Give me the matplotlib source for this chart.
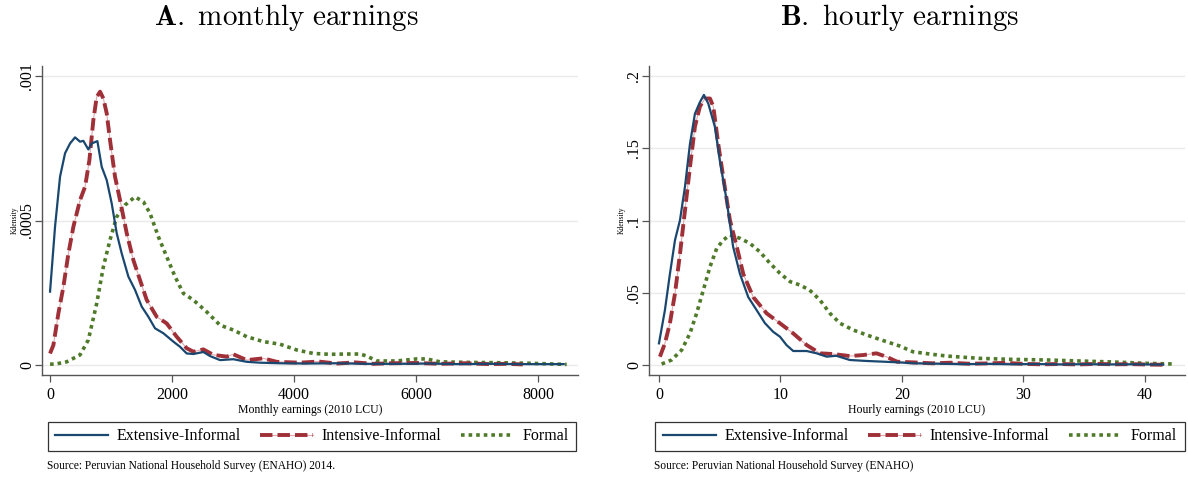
import matplotlib.pyplot as plt
from matplotlib.patches import Rectangle

plt.rcParams['font.family'] = ['Liberation Serif', 'DejaVu Serif']
plt.rcParams['mathtext.fontset'] = 'cm'

# kernel density estimates, monthly earnings (2010 LCU)
m_ext_x = [0, 82, 164, 246, 328, 410, 492, 546, 628, 683, 776, 847, 929, 1011, 1093,
           1175, 1284, 1393, 1503, 1612, 1721, 1857, 2021, 2131, 2240, 2349, 2513,
           2622, 2786, 3005, 3224, 3442, 3770, 4200, 4700, 5200, 5700, 6200, 6700,
           7200, 7700, 8200, 8420]
m_ext_y = [0.000254, 0.000479, 0.000652, 0.000733, 0.000767, 0.000788, 0.000773,
           0.000776, 0.000746, 0.000767, 0.000775, 0.000686, 0.00064, 0.000559,
           0.000456, 0.000386, 0.000306, 0.00026, 0.000202, 0.000167, 0.000127,
           0.00011, 0.000081, 0.000063, 0.00004, 0.000038, 0.000045, 0.000031,
           0.000017, 0.00002, 0.000011, 0.000008, 0.000006, 0.000005, 0.000006,
           0.000004, 0.000004, 0.000005, 0.000003, 0.000004, 0.000003, 0.000003,
           0.000003]

m_int_x = [0, 55, 137, 219, 301, 383, 492, 574, 645, 710, 765, 820, 874, 929, 983,
           1065, 1147, 1257, 1366, 1475, 1585, 1748, 1912, 2076, 2240, 2349, 2513,
           2677, 2896, 3005, 3224, 3497, 3716, 4098, 4400, 4700, 5000, 5300, 5600,
           6000, 6400, 6800, 7200, 7500, 7750]
m_int_y = [0.00004, 0.000069, 0.000179, 0.000271, 0.000386, 0.000479, 0.000571,
           0.000617, 0.000709, 0.000848, 0.000928, 0.000946, 0.000923, 0.000871,
           0.000779, 0.000652, 0.000571, 0.000456, 0.000363, 0.000294, 0.000225,
           0.000167, 0.000144, 0.000098, 0.000058, 0.000046, 0.000054, 0.000035,
           0.000029, 0.000037, 0.000017, 0.000023, 0.000011, 0.000008, 0.000012,
           0.000005, 0.000009, 0.000004, 0.000006, 0.000007, 0.000004, 0.000006,
           0.000003, 0.000004, 0.000002]

m_for_x = [0, 82, 273, 492, 628, 765, 874, 983, 1093, 1230, 1393, 1530, 1639, 1776,
           1912, 2049, 2185, 2349, 2568, 2786, 3005, 3224, 3497, 3770, 4044, 4316,
           4590, 4863, 5082, 5191, 5355, 5683, 6011, 6175, 6393, 6830, 7322, 7868,
           8469]
m_for_y = [0.000003, 0.000003, 0.000011, 0.000035, 0.000087, 0.000213, 0.00034,
           0.000433, 0.000513, 0.000554, 0.000582, 0.000565, 0.000525, 0.000444,
           0.000375, 0.000306, 0.000248, 0.000225, 0.000184, 0.000138, 0.000121,
           0.000098, 0.000081, 0.000072, 0.000052, 0.00004, 0.000037, 0.000038,
           0.000038, 0.000031, 0.000014, 0.000014, 0.000021, 0.000021, 0.000011,
           0.000009, 0.000008, 0.000006, 0.000002]

# kernel density estimates, hourly earnings (2010 LCU)
h_ext_x = [0, 0.49, 0.9, 1.32, 1.73, 2.14, 2.55, 2.96, 3.37, 3.7, 4.06, 4.6, 5.0,
           5.57, 6.1, 6.67, 7.35, 8.04, 8.72, 9.4, 9.96, 10.5, 11.05, 12.16, 12.98,
           13.8, 14.6, 15.7, 17.1, 18.5, 19.8, 20.9, 23, 25, 27, 29, 31, 33, 35,
           37, 39, 41.5]
h_ext_y = [0.015, 0.038, 0.063, 0.0865, 0.1003, 0.1234, 0.153, 0.174, 0.182, 0.187,
           0.181, 0.165, 0.142, 0.114, 0.082, 0.063, 0.047, 0.038, 0.029, 0.023,
           0.0196, 0.0138, 0.0097, 0.0097, 0.0081, 0.0058, 0.0064, 0.0035, 0.0028,
           0.0023, 0.0018, 0.0012, 0.0009, 0.0006, 0.0008, 0.0005, 0.0007, 0.0004,
           0.0006, 0.0004, 0.0005, 0.0003]

h_int_x = [0.08, 0.49, 0.9, 1.32, 1.73, 2.14, 2.55, 2.96, 3.37, 3.79, 4.2, 4.47,
           4.88, 5.29, 5.84, 6.4, 6.94, 7.76, 8.86, 9.96, 11.05, 12.16, 13.25,
           14.35, 15.7, 16.8, 17.9, 18.7, 19.6, 21, 22.5, 24, 25.5, 27, 28.5, 30,
           31.5, 33, 34.5, 36, 37.5, 39, 40.5, 41.5]
h_int_y = [0.0058, 0.015, 0.0289, 0.0496, 0.077, 0.107, 0.137, 0.165, 0.179,
           0.1845, 0.1845, 0.179, 0.153, 0.13, 0.1003, 0.082, 0.063, 0.047, 0.0358,
           0.0289, 0.0219, 0.0138, 0.0081, 0.0076, 0.0062, 0.0069, 0.0081, 0.0058,
           0.0023, 0.0018, 0.0012, 0.0016, 0.0009, 0.0011, 0.0015, 0.0008, 0.0005,
           0.0007, 0.0004, 0.0008, 0.0005, 0.0006, 0.0003, 0.0002]

h_for_x = [0.22, 1.04, 1.87, 2.55, 3.1, 3.65, 4.2, 4.75, 5.29, 5.84, 6.67, 7.49,
           8.3, 9.14, 9.96, 10.8, 11.6, 12.4, 13.25, 14.07, 14.9, 16.0, 17.1, 18.5,
           19.8, 20.9, 22.3, 23.7, 26.4, 29.1, 31.9, 34.6, 37.4, 40.1, 42.3]
h_for_y = [0.0007, 0.0035, 0.0104, 0.0219, 0.0358, 0.0519, 0.068, 0.0807, 0.0865,
           0.09, 0.0877, 0.0842, 0.0784, 0.0704, 0.0635, 0.0577, 0.0554, 0.0519,
           0.045, 0.0358, 0.0289, 0.0242, 0.0208, 0.0168, 0.0132, 0.0092, 0.0076,
           0.0062, 0.0046, 0.0039, 0.0035, 0.0028, 0.0021, 0.0012, 0.0007]

labels = ['Extensive-Informal', 'Intensive-Informal', 'Formal']
navy = '#1a476f'
maroon = '#a03038'
pink = '#e0a8ae'
green = '#4f7a2a'


def panel(ax, series, xlim, ylim, xticks, yticks, yticklabels, xlabel, title,
          title_x, source, leg_box):
    fig = ax.figure
    (ex, ey), (ix, iy), (fx, fy) = series
    l1, = ax.plot(ex, ey, color=navy, lw=1.6, zorder=4)
    p2, = ax.plot(ix, iy, color=pink, lw=0.8, zorder=3)
    l2, = ax.plot(ix, iy, color=maroon, lw=2.8, zorder=3,
                  linestyle=(0, (3.2, 1.3)), dash_capstyle='butt')
    l3, = ax.plot(fx, fy, color=green, lw=2.6, zorder=2,
                  linestyle=(0, (1, 1.1)), dash_capstyle='butt')

    ax.set_xlim(*xlim)
    ax.set_ylim(*ylim)
    ax.set_xticks(xticks)
    ax.set_xticklabels([str(t) for t in xticks], fontsize=11.5)
    ax.set_yticks(yticks)
    ax.set_yticklabels(yticklabels, fontsize=11.5, rotation=90, va='center')
    ax.grid(axis='y', color='#eaeaea', lw=1.0)
    ax.set_axisbelow(True)
    for s in ['top', 'right']:
        ax.spines[s].set_visible(False)
    for s in ['left', 'bottom']:
        ax.spines[s].set_color('#555555')
        ax.spines[s].set_linewidth(1.0)
    ax.tick_params(colors='#555555', labelcolor='black', length=5, width=0.9,
                   direction='out')
    ax.tick_params(axis='y', pad=0)
    ax.set_xlabel(xlabel, fontsize=8.5, labelpad=1)
    ax.set_ylabel('Kdensity', fontsize=5.5, labelpad=0.5)

    fig.text(title_x, 0.9477, title, fontsize=21, ha='center', va='baseline')

    # legend frame drawn separately so its size stays fixed
    fig.patches.append(Rectangle(leg_box[:2], leg_box[2], leg_box[3],
                                 transform=fig.transFigure, fill=False,
                                 edgecolor='#333333', lw=0.9))
    ax.legend([l1, (p2, l2), l3], labels, ncol=3, loc='center',
              bbox_to_anchor=leg_box, bbox_transform=fig.transFigure,
              fontsize=11.5, frameon=False, handlelength=3.3,
              handletextpad=0.56, columnspacing=1.2, borderaxespad=0,
              borderpad=0)
    fig.text(leg_box[0] - 0.001, 0.0255, source, fontsize=8.3, ha='left',
             va='center')


fig = plt.figure(figsize=(11.88, 4.78), dpi=100)
ax1 = fig.add_axes([0.0354, 0.2155, 0.4512, 0.6464])
ax2 = fig.add_axes([0.5463, 0.2155, 0.4512, 0.6464])

panel(ax1, [(m_ext_x, m_ext_y), (m_int_x, m_int_y), (m_for_x, m_for_y)],
      (-131, 8656), (-0.0000346, 0.001035),
      [0, 2000, 4000, 6000, 8000], [0, 0.0005, 0.001], ['0', '.0005', '.001'],
      'Monthly earnings (2010 LCU)',
      r'$\mathbf{A.}\ \mathrm{monthly\ earnings}$', 286.5 / 1188,
      'Source: Peruvian National Household Survey (ENAHO) 2014.',
      (47.7 / 1188, 27 / 478, 528 / 1188, 29 / 478))

panel(ax2, [(h_ext_x, h_ext_y), (h_int_x, h_int_y), (h_for_x, h_for_y)],
      (-0.82, 43.3), (-0.0069, 0.207),
      [0, 10, 20, 30, 40], [0, 0.05, 0.1, 0.15, 0.2],
      ['0', '.05', '.1', '.15', '.2'],
      'Hourly earnings (2010 LCU)',
      r'$\mathbf{B.}\ \mathrm{hourly\ earnings}$', 900 / 1188,
      'Source: Peruvian National Household Survey (ENAHO)',
      (655 / 1188, 27 / 478, 530 / 1188, 29 / 478))

fig.savefig('out.png', dpi=100, facecolor='white')
